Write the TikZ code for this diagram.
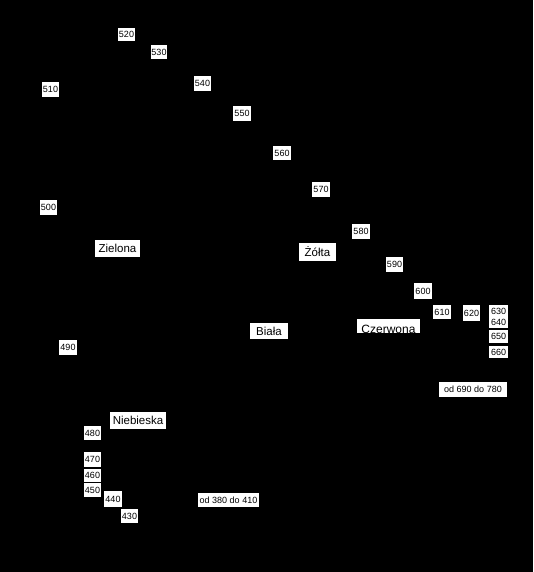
\documentclass[tikz,border=0pt]{standalone}
\usepackage{fontspec}
\setmainfont{Liberation Sans}
\tikzset{
  lbl/.style={fill=white, text=black, inner sep=0pt, font=\fontsize{9}{10}\selectfont},
  colname/.style={fill=white, text=black, inner sep=0pt, font=\fontsize{11.5}{12}\selectfont},
  boxsz/.style 2 args={minimum width=#1pt, minimum height=#2pt}}
\begin{document}
\begin{tikzpicture}[x=1pt,y=-1pt]
\fill[black] (0,0) rectangle (533,572);
\useasboundingbox (0,0) rectangle (533,572);
\node[lbl,boxsz={17}{13}] (n520) at (126.5,34.5) {520};
\node[lbl,boxsz={16}{14}] (n530) at (159,52) {530};
\node[lbl,boxsz={17}{15}] (n510) at (50.5,89.5) {510};
\node[lbl,boxsz={17}{15}] (n540) at (202.5,83.5) {540};
\node[lbl,boxsz={18}{15}] (n550) at (242,113.5) {550};
\node[lbl,boxsz={18}{14}] (n560) at (282,153) {560};
\node[lbl,boxsz={18}{15}] (n570) at (321,189.5) {570};
\node[lbl,boxsz={17}{15}] (n500) at (48.5,207.5) {500};
\node[lbl,boxsz={18}{15}] (n580) at (361,231.5) {580};
\node[colname,boxsz={45}{17}] (zielona) at (117.5,248.5) {Zielona};
\node[colname,boxsz={37}{18}] (zolta) at (317.5,252) {Żółta};
\node[lbl,boxsz={17}{15}] (n590) at (394.5,264.5) {590};
\node[lbl,boxsz={18}{16}] (n600) at (423,291) {600};
\node[lbl,boxsz={18}{14}] (n610) at (442,312) {610};
\node[lbl,boxsz={17}{16}] (n620) at (471.5,313) {620};
\node[lbl,boxsz={19}{12}] (n630) at (498.5,311) {630};
\node[lbl,boxsz={19}{11}] (n640) at (498.5,322.5) {640};
\node[lbl,boxsz={19}{13}] (n650) at (498.5,336.5) {650};
\node[lbl,boxsz={19}{12}] (n660) at (498.5,352) {660};
\node[fill=white,inner sep=0pt,boxsz={63}{14}] (czb) at (388.5,326) {};
\node[text=black,inner sep=0pt,font=\fontsize{12}{13}\selectfont,anchor=north] (czerwona) at ([yshift=-6.5pt]czb.north) {Czerwona};
\node[colname,boxsz={38}{16}] (biala) at (269,331) {Biała};
\node[lbl,boxsz={68}{15}] (r690) at (473,389.5) {od 690 do 780};
\node[lbl,boxsz={18}{15}] (n490) at (68,347.5) {490};
\node[colname,boxsz={56}{17}] (niebieska) at (138,420.5) {Niebieska};
\node[lbl,boxsz={17}{14}] (n480) at (92.5,433) {480};
\node[lbl,boxsz={17}{15}] (n470) at (92.5,459.5) {470};
\node[lbl,boxsz={17}{13}] (n460) at (92.5,475.5) {460};
\node[lbl,boxsz={17}{14}] (n450) at (92.5,490) {450};
\node[lbl,boxsz={18}{16}] (n440) at (113,499) {440};
\node[lbl,boxsz={17}{14}] (n430) at (129.5,516) {430};
\node[lbl,boxsz={61}{14}] (r380) at (228.5,500) {od 380 do 410};
\end{tikzpicture}
\end{document}
